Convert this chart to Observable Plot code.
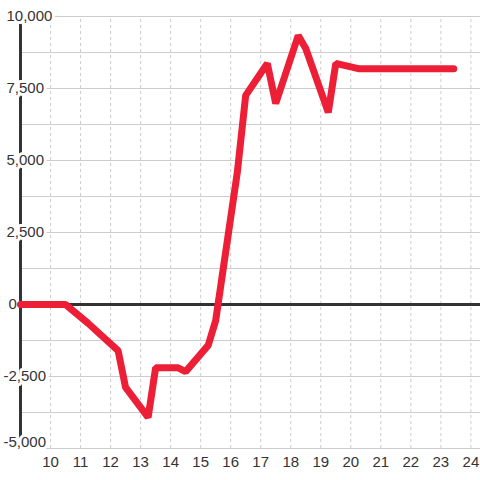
<!DOCTYPE html>
<html>
<head>
<meta charset="utf-8">
<script src="https://cdn.jsdelivr.net/npm/d3@7"></script>
<script src="https://cdn.jsdelivr.net/npm/@observablehq/plot@0.6"></script>
<style>
  html, body { margin: 0; padding: 0; background: #ffffff; }
  #chart { width: 480px; height: 480px; }
</style>
</head>
<body>
<div id="chart"></div>
<script>
// Data
const hours  = [9.0, 10.5, 11.25, 12.25, 12.5, 13.25, 13.5, 14.25, 14.5, 15.25, 15.5, 16.22, 16.5, 17.22, 17.5, 18.25, 18.5, 19.25, 19.5, 20.25, 23.43];
const values = [0, 0, -650, -1600, -2880, -3920, -2200, -2200, -2330, -1420, -560, 4580, 7260, 8370, 6980, 9340, 8890, 6670, 8370, 8190, 8190];

const xTicks = [10, 11, 12, 13, 14, 15, 16, 17, 18, 19, 20, 21, 22, 23, 24];
const yTicks = [-5000, -2500, 0, 2500, 5000, 7500, 10000];
const yTickLabels = ["-5,000", "-2,500", "0", "2,500", "5,000", "7,500", "10,000"];
const yGrid = [-5000, -3750, -2500, -1250, 0, 1250, 2500, 3750, 5000, 6250, 7500, 8750, 10000];

const xMin = 9, xMax = 24.32;
const yMin = -5000, yMax = 10000;

const series = hours.map((h, i) => ({ h, v: values[i] }));
const yLab = yTicks.map((t, i) => ({ t, label: yTickLabels[i] }));

const font = "'Liberation Sans', Arial, sans-serif";
const textColor = "#333333";

const labelBase = {
  y: "t", text: "label", frameAnchor: "left", textAnchor: "start",
  fontSize: 15, fill: textColor, stroke: "white", strokeWidth: 6,
  paintOrder: "stroke", lineAnchor: "middle"
};

const chart = Plot.plot({
  width: 480,
  height: 480,
  marginLeft: 20,
  marginRight: 0,
  marginTop: 16,
  marginBottom: 32,
  x: { domain: [xMin, xMax], axis: null },
  y: { domain: [yMin, yMax], axis: null },
  style: { background: "#ffffff", fontFamily: font, overflow: "visible" },
  marks: [
    // horizontal grid
    Plot.ruleY(yGrid, { x1: xMin, x2: xMax, stroke: "#cccccc", strokeWidth: 1 }),
    // vertical dashed grid
    Plot.ruleX(xTicks, { y1: yMin, y2: yMax, stroke: "#cccccc", strokeWidth: 1, strokeDasharray: "3,3" }),
    // y axis line
    Plot.ruleX([xMin], { y1: yMin, y2: yMax, stroke: "#333333", strokeWidth: 3 }),
    // zero line
    Plot.ruleY([0], { x1: xMin, x2: xMax, stroke: "#333333", strokeWidth: 3 }),
    // y labels (with white halo)
    Plot.text(yLab.filter(d => d.t > 0), { ...labelBase, dx: -14 }),
    Plot.text(yLab.filter(d => d.t === 0), { ...labelBase, dx: -12 }),
    Plot.text(yLab.filter(d => d.t < 0 && d.t > yMin), { ...labelBase, dx: -17 }),
    Plot.text(yLab.filter(d => d.t === yMin), { ...labelBase, dx: -17, dy: -6 }),
    // x labels
    Plot.text(xTicks, {
      x: d => d, y: () => yMin, text: d => String(d), dy: 14,
      textAnchor: "middle", lineAnchor: "middle", fontSize: 15, fill: textColor
    }),
    // data line
    Plot.line(series, {
      x: "h", y: "v", stroke: "#ec1f36", strokeWidth: 7,
      strokeLinejoin: "miter", strokeLinecap: "round"
    })
  ]
});

document.getElementById("chart").appendChild(chart);
</script>
</body>
</html>
